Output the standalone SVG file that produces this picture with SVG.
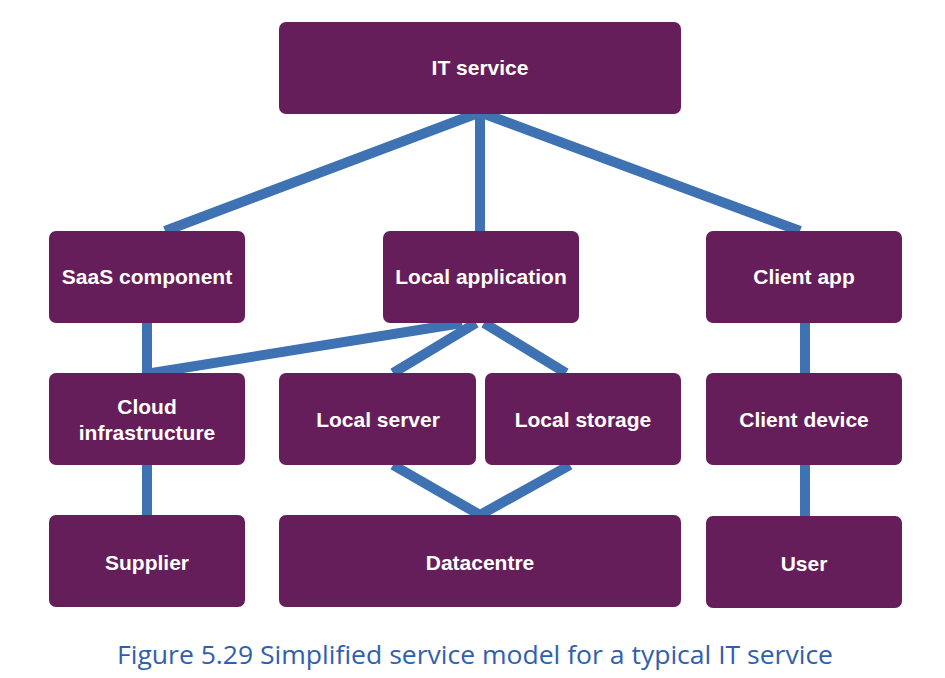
<svg xmlns="http://www.w3.org/2000/svg" width="945" height="678" viewBox="0 0 945 678">
<style>
.node rect{fill:#651E59;}
.node text{fill:#ffffff;font-family:"Liberation Sans",Arial,sans-serif;font-weight:bold;font-size:21px;text-anchor:middle;}
.conn line{stroke:#3E72B3;stroke-width:10;stroke-linecap:butt;}
.cap{fill:#3160AB;font-family:"Open Sans","Noto Sans",sans-serif;font-size:25px;}
</style>
<rect width="945" height="678" fill="#ffffff"/>
<g id="connectors" class="conn">
<line x1="478" y1="113" x2="165" y2="231"/>
<line x1="480" y1="113" x2="480" y2="231"/>
<line x1="482" y1="113" x2="800" y2="231"/>
<line x1="147" y1="323" x2="147" y2="373"/>
<line x1="147" y1="465" x2="147" y2="515"/>
<line x1="152" y1="373" x2="462" y2="323"/>
<line x1="476" y1="323" x2="393" y2="373"/>
<line x1="484" y1="323" x2="566" y2="373"/>
<line x1="393" y1="465" x2="480" y2="515"/>
<line x1="570" y1="465" x2="480" y2="515"/>
<line x1="805" y1="322" x2="805" y2="373"/>
<line x1="805" y1="465" x2="805" y2="516"/>
</g>
<g id="it-service" class="node"><rect x="279" y="22" width="402" height="92" rx="7"/><text x="480" y="75">IT service</text></g>
<g id="saas-component" class="node"><rect x="49" y="231" width="196" height="92" rx="7"/><text x="147" y="284">SaaS component</text></g>
<g id="local-application" class="node"><rect x="383" y="231" width="196" height="92" rx="7"/><text x="481" y="284">Local application</text></g>
<g id="client-app" class="node"><rect x="706" y="231" width="196" height="92" rx="7"/><text x="804" y="284">Client app</text></g>
<g id="cloud-infrastructure" class="node"><rect x="49" y="373" width="196" height="92" rx="7"/><text x="147" y="414">Cloud</text><text x="147" y="440">infrastructure</text></g>
<g id="local-server" class="node"><rect x="279" y="373" width="197" height="92" rx="7"/><text x="378" y="427">Local server</text></g>
<g id="local-storage" class="node"><rect x="485" y="373" width="196" height="92" rx="7"/><text x="583" y="427">Local storage</text></g>
<g id="client-device" class="node"><rect x="706" y="373" width="196" height="92" rx="7"/><text x="804" y="427">Client device</text></g>
<g id="supplier" class="node"><rect x="49" y="515" width="196" height="92" rx="7"/><text x="147" y="570">Supplier</text></g>
<g id="datacentre" class="node"><rect x="279" y="515" width="402" height="92" rx="7"/><text x="480" y="570">Datacentre</text></g>
<g id="user" class="node"><rect x="706" y="516" width="196" height="92" rx="7"/><text x="804" y="571">User</text></g>
<text class="cap" x="117" y="664" textLength="716" lengthAdjust="spacingAndGlyphs">Figure 5.29 Simplified service model for a typical IT service</text>
</svg>
